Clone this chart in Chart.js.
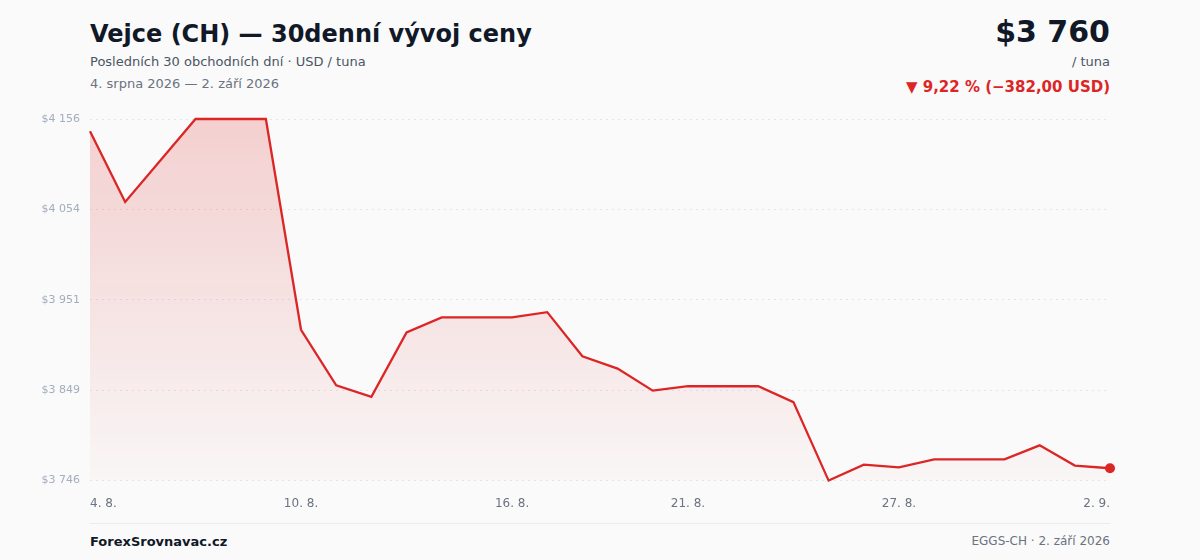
<!DOCTYPE html>
<html lang="cs">
<head>
<meta charset="utf-8">
<title>Vejce (CH) — 30denní vývoj ceny</title>
<script src="https://cdn.jsdelivr.net/npm/chart.js@4.4.1/dist/chart.umd.min.js"></script>
<style>
  html, body { margin: 0; padding: 0; }
  body {
    width: 1200px; height: 560px; position: relative; overflow: hidden;
    background: #fafafa; font-family: "DejaVu Sans", sans-serif;
  }
  .title { position: absolute; left: 90px; top: 20px; font-size: 24px; font-weight: bold; color: #111827; }
  .sub { position: absolute; left: 90px; top: 54px; font-size: 13px; color: #4b5563; }
  .range { position: absolute; left: 90px; top: 76px; font-size: 13px; color: #6b7280; }
  .price { position: absolute; right: 90px; top: 14px; font-size: 30px; font-weight: bold; color: #111827; }
  .unit { position: absolute; right: 90px; top: 54px; font-size: 13px; color: #4b5563; }
  .chg { position: absolute; right: 90px; top: 78px; font-size: 15px; font-weight: bold; color: #dc2626; }
  .chart { position: absolute; left: 0; top: 100px; width: 1120px; height: 427px; }
  .rule { position: absolute; left: 90px; top: 523px; width: 1020px; height: 1px; background: #eaecef; }
  .brand { position: absolute; left: 90px; top: 534px; font-size: 13px; font-weight: bold; color: #111827; }
  .src { position: absolute; right: 90px; top: 534px; font-size: 12px; color: #6b7280; }
</style>
</head>
<body>
<div class="title">Vejce (CH) — 30denní vývoj ceny</div>
<div class="sub">Posledních 30 obchodních dní · USD / tuna</div>
<div class="range">4. srpna 2026 — 2. září 2026</div>
<div class="price">$3 760</div>
<div class="unit">/ tuna</div>
<div class="chg">▼ 9,22 % (−382,00 USD)</div>
<div class="chart"><canvas id="priceChart"></canvas></div>
<div class="rule"></div>
<div class="brand">ForexSrovnavac.cz</div>
<div class="src">EGGS-CH · 2. září 2026</div>

<script>
// ===== DATA =====
const days = [
  '4. 8.', '5. 8.', '6. 8.', '7. 8.', '8. 8.', '9. 8.', '10. 8.', '11. 8.', '12. 8.', '13. 8.',
  '14. 8.', '15. 8.', '16. 8.', '17. 8.', '18. 8.', '19. 8.', '20. 8.', '21. 8.', '22. 8.', '23. 8.',
  '24. 8.', '25. 8.', '26. 8.', '27. 8.', '28. 8.', '29. 8.', '30. 8.', '31. 8.', '1. 9.', '2. 9.'
];
const prices = [
  4142, 4062, 4109, 4156, 4156, 4156, 3917, 3854, 3841, 3914,
  3931, 3931, 3931, 3937, 3887, 3873, 3848, 3853, 3853, 3853,
  3835, 3746, 3764, 3761, 3770, 3770, 3770, 3786, 3763, 3760
];
const shownDays = ['4. 8.', '10. 8.', '16. 8.', '21. 8.', '27. 8.', '2. 9.'];
const yTicks = [3746, 3848.5, 3951, 4053.5, 4156];

const red = '#dc2626';
const fmtUsd = v => '$' + Math.round(v).toString().replace(/\B(?=(\d{3})+(?!\d))/g, ' ');

new Chart(document.getElementById('priceChart'), {
  type: 'line',
  data: {
    labels: days,
    datasets: [{
      data: prices,
      borderColor: red,
      borderWidth: 2.3,
      tension: 0,
      fill: 'start',
      backgroundColor: ctx => {
        const area = ctx.chart.chartArea;
        if (!area) return 'rgba(220,38,38,0.1)';
        const g = ctx.chart.ctx.createLinearGradient(0, area.top, 0, area.bottom);
        g.addColorStop(0, 'rgba(220,38,38,0.2)');
        g.addColorStop(1, 'rgba(220,38,38,0.02)');
        return g;
      },
      pointRadius: ctx => ctx.dataIndex === prices.length - 1 ? 5 : 0,
      pointBackgroundColor: red,
      pointBorderWidth: 0,
      clip: false
    }]
  },
  options: {
    responsive: true,
    maintainAspectRatio: false,
    animation: false,
    layout: { padding: { top: 19, right: 10, bottom: 8, left: 0 } },
    plugins: { legend: { display: false }, tooltip: { enabled: false } },
    scales: {
      x: {
        offset: false,
        border: { display: false },
        grid: { display: false },
        afterFit: s => { s.paddingLeft = 0; s.paddingRight = 0; },
        ticks: {
          autoSkip: false, maxRotation: 0, align: 'inner', padding: 8,
          color: '#6b7280', font: { family: 'DejaVu Sans', size: 12 },
          callback: function (v, i) {
            const lab = days[i];
            return shownDays.includes(lab) ? lab : '';
          }
        }
      },
      y: {
        min: yTicks[0], max: yTicks[yTicks.length - 1],
        border: { display: false, dash: [2, 4] },
        afterBuildTicks: s => { s.ticks = yTicks.map(v => ({ value: v })); },
        afterFit: s => { s.width = 90; },
        grid: { color: '#e2e5ea', lineWidth: 1, drawTicks: false },
        ticks: {
          padding: 10,
          color: '#a3adbd', font: { family: 'DejaVu Sans', size: 11 },
          callback: v => fmtUsd(v)
        }
      }
    }
  }
});
</script>
</body>
</html>
